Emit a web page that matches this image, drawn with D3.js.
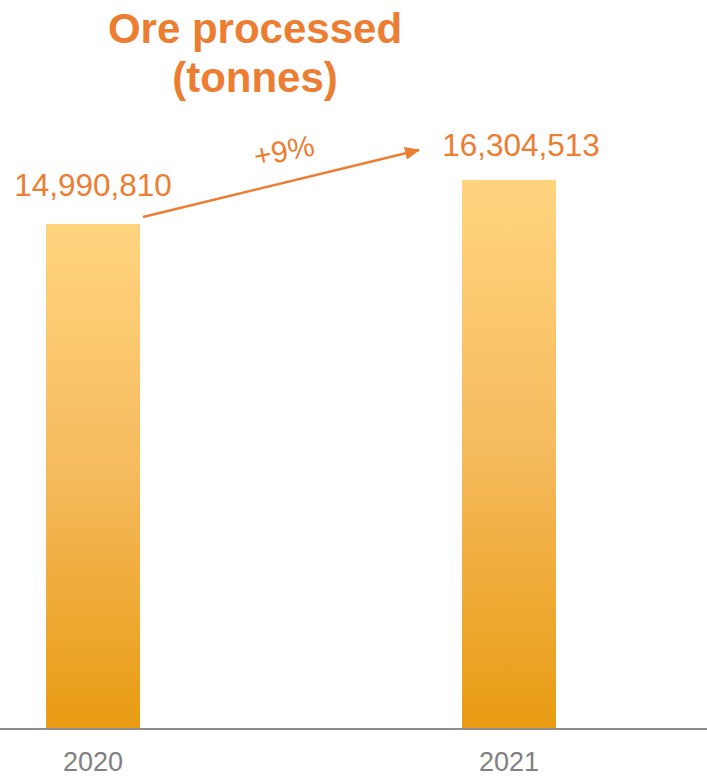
<!DOCTYPE html>
<html>
<head>
<meta charset="utf-8">
<script src="https://cdn.jsdelivr.net/npm/d3@7"></script>
<style>
  html, body { margin: 0; padding: 0; background: #fff; }
  svg { display: block; }
  text { font-family: "Liberation Sans", Arial, sans-serif; }
</style>
</head>
<body>
<svg id="chart" width="707" height="782"></svg>
<script>
// Ore processed per year
const years = ["2020", "2021"];
const tonnes = [14990810, 16304513];
const growthLabel = "+9%";
const titleLines = ["Ore processed", "(tonnes)"];

const W = 707, H = 782;
const orange = "#ED7D31";
const svg = d3.select("#chart");

const baseline = 728;

// x band: bar centres 416px apart, bars 94px wide
const x = d3.scaleBand().domain(years).range([-162, 764]).paddingInner(0.774).paddingOuter(0.5);
const y = d3.scaleLinear().domain([0, 14990810]).range([baseline, 224]);

// vertical gradient per bar
const defs = svg.append("defs");
const grad = defs.append("linearGradient")
  .attr("id", "barGrad").attr("x1", 0).attr("y1", 0).attr("x2", 0).attr("y2", 1);
grad.append("stop").attr("offset", "0%").attr("stop-color", "#FFD47F");
grad.append("stop").attr("offset", "50%").attr("stop-color", "#F5BA5C");
grad.append("stop").attr("offset", "100%").attr("stop-color", "#E99B12");

defs.append("marker")
  .attr("id", "arrowHead")
  .attr("viewBox", "0 0 15 13")
  .attr("refX", 14).attr("refY", 6.5)
  .attr("markerUnits", "userSpaceOnUse")
  .attr("markerWidth", 15).attr("markerHeight", 13)
  .attr("orient", "auto")
  .append("path").attr("d", "M0,0 L15,6.5 L0,13 Z").attr("fill", orange);

// title
const title = svg.append("text")
  .attr("x", 255).attr("text-anchor", "middle")
  .attr("fill", orange).attr("font-weight", "bold").attr("font-size", 42);
title.selectAll("tspan").data(titleLines).join("tspan")
  .attr("x", 255).attr("y", (d, i) => 43 + i * 49).text(d => d);

// bars
svg.selectAll("rect.bar").data(tonnes).join("rect")
  .attr("class", "bar")
  .attr("x", (d, i) => x(years[i]))
  .attr("width", x.bandwidth())
  .attr("y", d => y(d))
  .attr("height", d => baseline - y(d))
  .attr("fill", "url(#barGrad)");

// axis
const axis = d3.axisBottom(x).tickSize(0).tickPadding(24);
const gAxis = svg.append("g").attr("transform", `translate(0,${baseline})`).call(axis);
gAxis.select(".domain").remove();
gAxis.selectAll("text")
  .attr("font-family", "'Liberation Sans', Arial, sans-serif")
  .attr("font-size", 27).attr("fill", "#7F7F7F");
svg.append("line")
  .attr("x1", 0).attr("x2", W).attr("y1", baseline + 1).attr("y2", baseline + 1)
  .attr("stroke", "#8C8C8C").attr("stroke-width", 2);

// value labels
const fmt = d3.format(",");
const labelDx = [0, 12];
const labelDy = [-28, -24];
svg.selectAll("text.val").data(tonnes).join("text")
  .attr("class", "val")
  .attr("x", (d, i) => x(years[i]) + x.bandwidth() / 2 + labelDx[i])
  .attr("y", (d, i) => y(d) + labelDy[i])
  .attr("text-anchor", "middle")
  .attr("font-size", 31.5).attr("fill", orange)
  .text(d => fmt(d));

// growth arrow
svg.append("line")
  .attr("x1", 143).attr("y1", 217).attr("x2", 419).attr("y2", 150)
  .attr("stroke", orange).attr("stroke-width", 2.5)
  .attr("marker-end", "url(#arrowHead)");

svg.append("text")
  .attr("transform", "translate(286,161) rotate(-11)")
  .attr("text-anchor", "middle")
  .attr("font-size", 30).attr("fill", orange)
  .text(growthLabel);
</script>
</body>
</html>
